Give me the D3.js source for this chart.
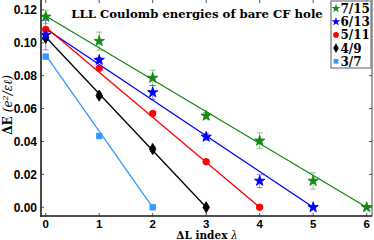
<!DOCTYPE html>
<html>
<head>
<meta charset="utf-8">
<script src="https://cdn.jsdelivr.net/npm/d3@7"></script>
<style>
  body { margin: 0; background: #fff; }
  svg { display: block; }
</style>
</head>
<body>
<svg id="chart" width="374" height="240"></svg>
<script>
// series labels, colours and marker shapes
var seriesNames = ['7/15', '6/13', '5/11', '4/9', '3/7'];
var seriesColors = ['#138a13', '#0000ff', '#ff0000', '#000000', '#3399ff'];

// Delta E values at lambda = 0, 1, 2, ...
var valuesA = [0.1158, 0.101, 0.0786, 0.0556, 0.0404, 0.016, 0.0];
var valuesB = [0.1047, 0.0895, 0.0698, 0.0428, 0.016, 0.0];
var valuesC = [0.108, 0.0845, 0.057, 0.0277, 0.0];
var valuesD = [0.103, 0.0679, 0.0354, 0.0];
var valuesE = [0.0916, 0.0433, 0.0];

// error bar half widths
var errorsA = [0.004, 0.0055, 0.0047, 0.002, 0.0048, 0.005, 0.001];
var errorsB = [0.009, 0.0015, 0.0043, 0.002, 0.004, 0.001];
var errorsC = [0.0015, 0.001, 0.001, 0.001, 0.0005];
var errorsD = [0.0015, 0.0015, 0.0015, 0.0005];
var errorsE = [0.0005, 0.0005, 0.0005];

// fitted line intercepts at lambda = 0 (line ends at zero at the last lambda)
var fitIntercepts = [0.1163, 0.1085, 0.1094, 0.1035, 0.0925];

var xTicks = [0, 1, 2, 3, 4, 5, 6];
var yTicks = [0.00, 0.02, 0.04, 0.06, 0.08, 0.10, 0.12];

var allValues = [valuesA, valuesB, valuesC, valuesD, valuesE];
var allErrors = [errorsA, errorsB, errorsC, errorsD, errorsE];
var symbols = [d3.symbolStar, d3.symbolStar, d3.symbolCircle, d3.symbolDiamond, d3.symbolSquare];
var symbolSizes = [34, 34, 34, 36, 30];

var svg = d3.select('#chart');
var plotLeft = 41, plotRight = 372, plotTop = 0, plotBottom = 216;

var x = d3.scaleLinear().domain([-0.088, 6.1]).range([plotLeft, plotRight]);
var y = d3.scaleLinear().domain([-0.0053, 0.126]).range([plotBottom, plotTop]);

// ticks pointing inward on all four sides
var tickColor = '#555';
function drawTicks() {
    var g = svg.append('g').attr('class', 'ticks');
    xTicks.forEach(function(t) {
        g.append('line').attr('x1', x(t)).attr('x2', x(t))
            .attr('y1', plotBottom).attr('y2', plotBottom - 3)
            .attr('stroke', tickColor).attr('stroke-width', 1);
        g.append('line').attr('x1', x(t)).attr('x2', x(t))
            .attr('y1', plotTop).attr('y2', plotTop + 3)
            .attr('stroke', tickColor).attr('stroke-width', 1);
    });
    yTicks.forEach(function(t) {
        g.append('line').attr('x1', plotLeft).attr('x2', plotLeft + 3)
            .attr('y1', y(t)).attr('y2', y(t))
            .attr('stroke', tickColor).attr('stroke-width', 1);
        g.append('line').attr('x1', plotRight).attr('x2', plotRight - 3)
            .attr('y1', y(t)).attr('y2', y(t))
            .attr('stroke', tickColor).attr('stroke-width', 1);
    });
}
drawTicks();

// fit lines
var lines = svg.append('g').attr('class', 'fits');
allValues.forEach(function(vals, i) {
    var last = vals.length - 1;
    lines.append('line')
        .attr('x1', x(0)).attr('y1', y(fitIntercepts[i]))
        .attr('x2', x(last)).attr('y2', y(0))
        .attr('stroke', seriesColors[i])
        .attr('stroke-width', 1.3);
});

// error bars
var errG = svg.append('g').attr('class', 'errors');
allValues.forEach(function(vals, i) {
    vals.forEach(function(v, k) {
        var e = allErrors[i][k];
        var cx = x(k);
        errG.append('line')
            .attr('x1', cx).attr('x2', cx)
            .attr('y1', y(v - e)).attr('y2', y(v + e))
            .attr('stroke', seriesColors[i]).attr('stroke-opacity', 0.45)
            .attr('stroke-width', 1);
        [v - e, v + e].forEach(function(yy) {
            errG.append('line')
                .attr('x1', cx - 3).attr('x2', cx + 3)
                .attr('y1', y(yy)).attr('y2', y(yy))
                .attr('stroke', seriesColors[i]).attr('stroke-opacity', 0.45)
                .attr('stroke-width', 1);
        });
    });
});

// markers
var markG = svg.append('g').attr('class', 'markers');
for (var i = allValues.length - 1; i >= 0; i--) {
    allValues[i].forEach(function(v, k) {
        markG.append('path')
            .attr('d', d3.symbol().type(symbols[i]).size(symbolSizes[i])())
            .attr('transform', 'translate(' + x(k) + ',' + y(v) + ')')
            .attr('fill', seriesColors[i])
            .attr('stroke', seriesColors[i]).attr('stroke-width', 0.9);
    });
}

// frame
svg.append('rect')
    .attr('x', plotLeft).attr('y', plotTop - 1)
    .attr('width', plotRight - plotLeft).attr('height', plotBottom - plotTop + 1)
    .attr('fill', 'none').attr('stroke', '#444').attr('stroke-width', 1);
svg.append('line').attr('x1', plotLeft).attr('x2', plotLeft)
    .attr('y1', plotTop).attr('y2', plotBottom + 1)
    .attr('stroke', '#333').attr('stroke-width', 1.6);
svg.append('line').attr('x1', plotLeft - 1).attr('x2', plotRight)
    .attr('y1', plotBottom).attr('y2', plotBottom)
    .attr('stroke', '#333').attr('stroke-width', 1.6);

// tick labels
var tickFont = 'Liberation Sans, Arial, sans-serif';
svg.append('g').selectAll('text').data(xTicks).enter().append('text')
    .attr('x', function(d) { return x(d); })
    .attr('y', 228)
    .attr('text-anchor', 'middle')
    .attr('font-family', tickFont).attr('font-weight', 'bold')
    .attr('font-size', 11.5)
    .text(function(d) { return d; });
svg.append('g').selectAll('text').data(yTicks).enter().append('text')
    .attr('x', 37)
    .attr('y', function(d) { return y(d) + 4.5; })
    .attr('text-anchor', 'end')
    .attr('font-family', tickFont).attr('font-weight', 'bold')
    .attr('font-size', 12)
    .text(function(d) { return d.toFixed(2); });

// title and axis labels
var serif = 'DejaVu Serif, Liberation Serif, serif';
svg.append('text')
    .attr('x', 197).attr('y', 18)
    .attr('text-anchor', 'middle')
    .attr('font-family', serif).attr('font-weight', 'bold')
    .attr('font-size', 11.7)
    .text('LLL Coulomb energies of bare CF hole');

var xl = svg.append('text')
    .attr('x', 207).attr('y', 238.5)
    .attr('text-anchor', 'middle')
    .attr('font-family', serif).attr('font-size', 10.5);
xl.append('tspan').attr('font-weight', 'bold').text('ΔL index ');
xl.append('tspan').attr('font-style', 'italic').text('λ');

var yl = svg.append('text')
    .attr('transform', 'translate(12,105) rotate(-90)')
    .attr('text-anchor', 'middle')
    .attr('font-family', serif).attr('font-size', 12);
yl.append('tspan').attr('font-weight', 'bold').text('ΔE ');
yl.append('tspan').attr('font-style', 'italic').text('(e');
yl.append('tspan').attr('font-style', 'italic').attr('font-size', 8)
    .attr('dy', -4.5).text('2');
yl.append('tspan').attr('font-style', 'italic').attr('dy', 4.5).text('/εℓ)');

// legend
var legX = 331, legY = 1, legW = 40, legH = 67;
var leg = svg.append('g').attr('class', 'legend');
leg.append('rect')
    .attr('x', legX).attr('y', legY).attr('width', legW).attr('height', legH)
    .attr('fill', '#fff').attr('stroke', '#777').attr('stroke-width', 1.2);
seriesNames.forEach(function(name, i) {
    var ly = 8.5 + i * 13.2;
    leg.append('path')
        .attr('d', d3.symbol().type(symbols[i]).size(symbolSizes[i] * 0.75)())
        .attr('transform', 'translate(' + (legX + 5) + ',' + ly + ')')
        .attr('fill', seriesColors[i]);
    leg.append('text')
        .attr('x', legX + 9.5).attr('y', ly + 4.5)
        .attr('font-family', serif).attr('font-weight', 'bold')
        .attr('font-size', 12)
        .text(name);
});
</script>
</body>
</html>
